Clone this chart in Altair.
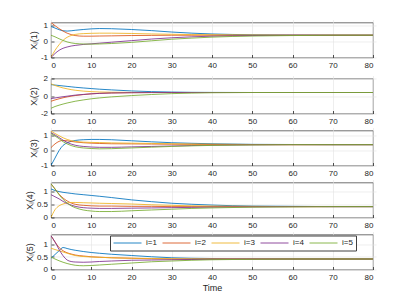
import altair as alt
import pandas as pd

# Time samples
T = [0, 1, 2, 3, 4, 5, 6, 8, 10, 12, 15, 20, 25, 30, 35, 40, 50, 60, 70, 80]
SERIES = ["i=1", "i=2", "i=3", "i=4", "i=5"]
COLORS = ["#0072BD", "#D95319", "#EDB120", "#7E2F8E", "#77AC30"]

# Panel 1: X_i(1)
P1_I1 = [0.95, 0.85, 0.75, 0.68, 0.66, 0.68, 0.71, 0.76, 0.80, 0.82, 0.81, 0.76, 0.69, 0.60, 0.53, 0.48, 0.43, 0.41, 0.40, 0.40]
P1_I2 = [1.20, 1.00, 0.82, 0.66, 0.53, 0.44, 0.38, 0.34, 0.34, 0.35, 0.36, 0.38, 0.39, 0.40, 0.40, 0.40, 0.40, 0.40, 0.40, 0.40]
P1_I3 = [-1.00, -0.55, -0.20, 0.08, 0.27, 0.38, 0.45, 0.50, 0.52, 0.53, 0.53, 0.51, 0.48, 0.46, 0.44, 0.43, 0.41, 0.40, 0.40, 0.40]
P1_I4 = [-1.00, -0.75, -0.55, -0.42, -0.34, -0.28, -0.24, -0.18, -0.14, -0.10, -0.04, 0.06, 0.16, 0.24, 0.30, 0.34, 0.38, 0.40, 0.40, 0.40]
P1_I5 = [0.40, 0.30, 0.18, 0.07, -0.02, -0.08, -0.12, -0.15, -0.16, -0.15, -0.12, -0.05, 0.05, 0.15, 0.22, 0.28, 0.35, 0.38, 0.40, 0.40]

# Panel 2: X_i(2)
P2_I1 = [1.30, 1.25, 1.20, 1.15, 1.10, 1.05, 1.00, 0.92, 0.85, 0.78, 0.70, 0.58, 0.50, 0.45, 0.42, 0.41, 0.40, 0.40, 0.40, 0.40]
P2_I2 = [-0.60, -0.45, -0.32, -0.20, -0.10, -0.02, 0.05, 0.16, 0.25, 0.30, 0.35, 0.38, 0.40, 0.40, 0.40, 0.40, 0.40, 0.40, 0.40, 0.40]
P2_I3 = [1.40, 1.20, 1.05, 0.92, 0.82, 0.73, 0.66, 0.56, 0.50, 0.46, 0.43, 0.41, 0.40, 0.40, 0.40, 0.40, 0.40, 0.40, 0.40, 0.40]
P2_I4 = [-0.30, -0.22, -0.15, -0.08, -0.02, 0.04, 0.10, 0.18, 0.25, 0.30, 0.35, 0.38, 0.39, 0.40, 0.40, 0.40, 0.40, 0.40, 0.40, 0.40]
P2_I5 = [-1.40, -1.20, -1.05, -0.92, -0.80, -0.70, -0.60, -0.45, -0.32, -0.22, -0.10, 0.05, 0.17, 0.27, 0.33, 0.37, 0.40, 0.40, 0.40, 0.40]

# Panel 3: X_i(3)
P3_I1 = [-1.00, -0.50, 0.00, 0.35, 0.52, 0.62, 0.68, 0.73, 0.75, 0.75, 0.73, 0.66, 0.59, 0.53, 0.49, 0.46, 0.42, 0.41, 0.40, 0.40]
P3_I2 = [0.20, 0.45, 0.62, 0.68, 0.66, 0.62, 0.58, 0.53, 0.50, 0.48, 0.46, 0.45, 0.44, 0.43, 0.42, 0.41, 0.40, 0.40, 0.40, 0.40]
P3_I3 = [1.30, 1.15, 1.00, 0.86, 0.75, 0.67, 0.62, 0.57, 0.55, 0.54, 0.52, 0.50, 0.48, 0.46, 0.44, 0.43, 0.41, 0.40, 0.40, 0.40]
P3_I4 = [1.20, 1.05, 0.88, 0.70, 0.55, 0.44, 0.36, 0.28, 0.24, 0.22, 0.22, 0.25, 0.28, 0.31, 0.34, 0.36, 0.39, 0.40, 0.40, 0.40]
P3_I5 = [1.15, 0.98, 0.80, 0.60, 0.45, 0.34, 0.26, 0.18, 0.14, 0.12, 0.13, 0.18, 0.23, 0.28, 0.32, 0.35, 0.38, 0.40, 0.40, 0.40]

# Panel 4: X_i(4)
P4_I1 = [1.10, 1.04, 1.00, 0.97, 0.95, 0.93, 0.91, 0.88, 0.85, 0.82, 0.77, 0.68, 0.61, 0.55, 0.51, 0.48, 0.44, 0.43, 0.42, 0.42]
P4_I2 = [1.30, 1.10, 0.90, 0.75, 0.64, 0.56, 0.51, 0.47, 0.45, 0.44, 0.44, 0.43, 0.43, 0.42, 0.42, 0.42, 0.42, 0.42, 0.42, 0.42]
P4_I3 = [0.00, 0.30, 0.45, 0.52, 0.56, 0.58, 0.58, 0.57, 0.56, 0.55, 0.54, 0.52, 0.49, 0.47, 0.45, 0.44, 0.43, 0.42, 0.42, 0.42]
P4_I4 = [0.88, 0.80, 0.72, 0.62, 0.54, 0.48, 0.43, 0.38, 0.36, 0.35, 0.35, 0.36, 0.37, 0.38, 0.39, 0.40, 0.41, 0.42, 0.42, 0.42]
P4_I5 = [1.30, 1.10, 0.88, 0.70, 0.56, 0.45, 0.38, 0.29, 0.25, 0.23, 0.23, 0.26, 0.29, 0.32, 0.35, 0.37, 0.40, 0.41, 0.42, 0.42]

# Panel 5: X_i(5)
P5_I1 = [0.45, 0.60, 0.75, 0.88, 0.84, 0.80, 0.77, 0.72, 0.68, 0.65, 0.61, 0.56, 0.51, 0.47, 0.45, 0.44, 0.42, 0.42, 0.42, 0.42]
P5_I2 = [1.35, 1.10, 0.88, 0.75, 0.67, 0.62, 0.58, 0.54, 0.51, 0.49, 0.47, 0.45, 0.43, 0.42, 0.42, 0.42, 0.42, 0.42, 0.42, 0.42]
P5_I3 = [0.85, 0.80, 0.75, 0.70, 0.65, 0.60, 0.56, 0.52, 0.50, 0.49, 0.47, 0.45, 0.44, 0.43, 0.42, 0.42, 0.42, 0.42, 0.42, 0.42]
P5_I4 = [1.35, 1.10, 0.80, 0.55, 0.38, 0.32, 0.30, 0.29, 0.30, 0.32, 0.34, 0.37, 0.38, 0.39, 0.40, 0.41, 0.42, 0.42, 0.42, 0.42]
P5_I5 = [0.50, 0.42, 0.35, 0.29, 0.24, 0.20, 0.17, 0.15, 0.16, 0.18, 0.21, 0.26, 0.31, 0.34, 0.37, 0.39, 0.41, 0.42, 0.42, 0.42]

PANELS = [
    [P1_I1, P1_I2, P1_I3, P1_I4, P1_I5],
    [P2_I1, P2_I2, P2_I3, P2_I4, P2_I5],
    [P3_I1, P3_I2, P3_I3, P3_I4, P3_I5],
    [P4_I1, P4_I2, P4_I3, P4_I4, P4_I5],
    [P5_I1, P5_I2, P5_I3, P5_I4, P5_I5],
]
Y_TITLES = ["Xᵢ(1)", "Xᵢ(2)", "Xᵢ(3)", "Xᵢ(4)", "Xᵢ(5)"]
Y_DOMAINS = [[-1, 1.2], [-2, 2], [-1, 1.35], [0, 1.35], [0, 1.4]]
Y_TICKS = [[-1, 0, 1], [-2, 0, 2], [-1, 0, 1], [0, 0.5, 1], [0, 0.5, 1]]
X_TICKS = [0, 10, 20, 30, 40, 50, 60, 70, 80]

charts = []
for k, series_vals in enumerate(PANELS):
    rows = []
    for name, vals in zip(SERIES, series_vals):
        for t, v in zip(T, vals):
            rows.append({"t": t, "v": v, "series": name})
    df = pd.DataFrame(rows)
    last = k == len(PANELS) - 1
    if last:
        legend = alt.Legend(
            orient="none", legendX=59, legendY=1, direction="horizontal",
            columns=5, title=None, symbolType="stroke", symbolSize=784,
            symbolStrokeWidth=1, labelFontSize=8, labelFont="Liberation Sans",
            labelColor="#262626", fillColor="white", strokeColor="#404040",
            padding=3, columnPadding=5, labelOffset=4, rowPadding=0,
            clipHeight=9,
        )
    else:
        legend = None
    xaxis = alt.Axis(values=X_TICKS, title="Time" if last else None,
                     labelExpr="'' + datum.value", titlePadding=2)
    ch = alt.Chart(df).mark_line(strokeWidth=1, opacity=0.85, interpolate="monotone", clip=True).encode(
        x=alt.X("t:Q", scale=alt.Scale(domain=[0, 80], nice=False), axis=xaxis),
        y=alt.Y("v:Q", scale=alt.Scale(domain=Y_DOMAINS[k], nice=False, zero=False),
                axis=alt.Axis(values=Y_TICKS[k], title=Y_TITLES[k],
                              labelExpr="'' + datum.value", titlePadding=2)),
        color=alt.Color("series:N", scale=alt.Scale(domain=SERIES, range=COLORS), legend=legend),
    ).properties(width=322, height=35)
    charts.append(ch)

chart = alt.vconcat(*charts, spacing=4).resolve_scale(color="independent").resolve_legend(
    color="independent"
).properties(
    padding={"top": 12.5, "left": 16, "right": 8, "bottom": 5}
).configure_view(
    stroke="#4d4d4d", strokeWidth=0.8
).configure_axis(
    labelFont="Liberation Sans", titleFont="Liberation Sans",
    labelFontSize=8, titleFontSize=9, titleFontWeight="normal",
    labelColor="#262626", titleColor="#262626",
    gridColor="#e3e3e3", gridWidth=0.6, domain=False,
    tickColor="#4d4d4d", tickSize=3, offset=-3, labelPadding=3.5,
)

chart.save("out.html", embed_options={"renderer": "svg", "actions": False})
